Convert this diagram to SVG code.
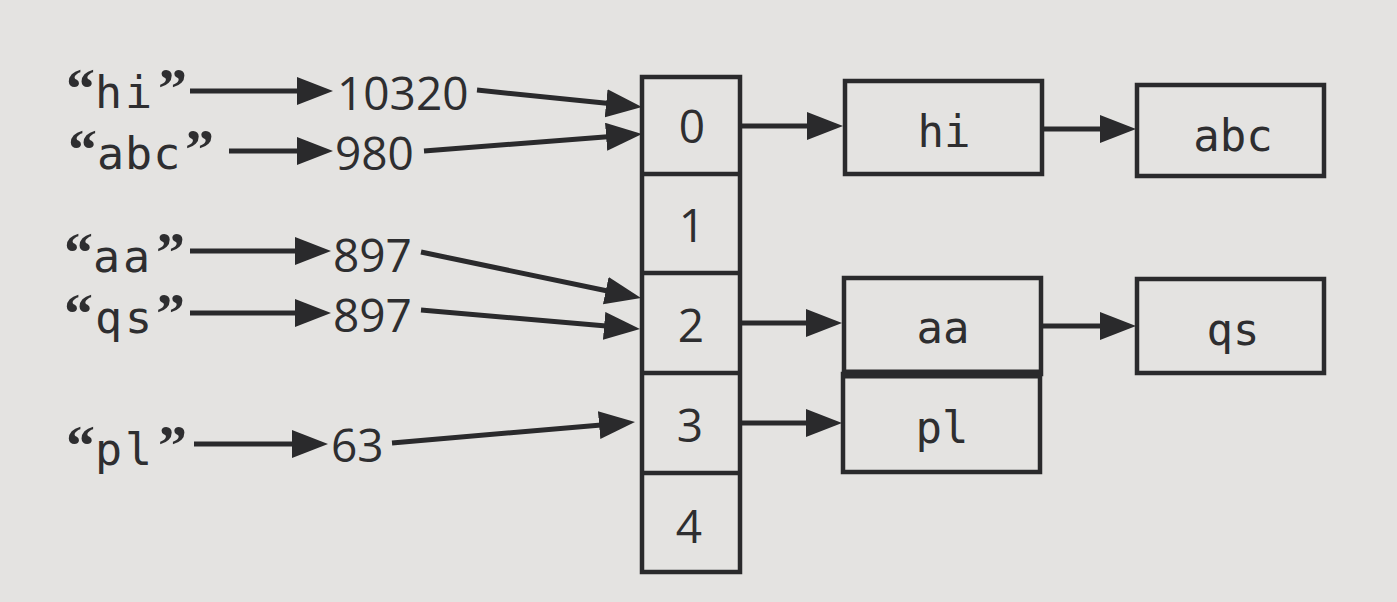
<svg xmlns="http://www.w3.org/2000/svg" width="1397" height="602" viewBox="0 0 1397 602">
  <style>
    .box { fill: none; stroke: #2a2a2c; stroke-width: 4.5; }
    .num { font-family: "Open Sans", "Liberation Sans", sans-serif; font-size: 46px; fill: #2e2e30; }
    .mono { font-family: "DejaVu Sans Mono", "Liberation Mono", monospace; font-size: 44px; fill: #2e2e30; }
    .str { font-family: "DejaVu Sans Mono", "Liberation Mono", monospace; font-size: 45px; fill: #2e2e30; }
    .str .l { letter-spacing: 3px; }
    .str .q { font-family: "Liberation Serif", "Times New Roman", serif; font-size: 58px; font-weight: bold; letter-spacing: 0; }
    .conn line { stroke: #2a2a2c; stroke-width: 5; marker-end: url(#ah); }
  </style>
  <defs>
    <marker id="ah" markerUnits="userSpaceOnUse" markerWidth="40" markerHeight="30" refX="8" refY="14" orient="auto">
      <path d="M0,0 L36,14 L0,28 Z" fill="#2a2a2c"/>
    </marker>
  </defs>
  <rect x="0" y="0" width="1397" height="602" fill="#e4e3e1"/>

  <g id="keys">
    <text id="key-hi" class="str" y="108"><tspan class="q" x="66">“</tspan><tspan class="l" x="95">hi</tspan><tspan class="q" x="158">”</tspan></text>
    <text id="key-abc" class="str" y="169"><tspan class="q" x="68">“</tspan><tspan class="l" x="97" style="letter-spacing:1px">abc</tspan><tspan class="q" x="185">”</tspan></text>
    <text id="key-aa" class="str" y="272"><tspan class="q" x="64">“</tspan><tspan class="l" x="93">aa</tspan><tspan class="q" x="156">”</tspan></text>
    <text id="key-qs" class="str" y="333"><tspan class="q" x="64">“</tspan><tspan class="l" x="95">qs</tspan><tspan class="q" x="156">”</tspan></text>
    <text id="key-pl" class="str" y="465"><tspan class="q" x="66">“</tspan><tspan class="l" x="95">pl</tspan><tspan class="q" x="158">”</tspan></text>
  </g>

  <g id="hashes">
    <text id="hash-10320" class="num" x="337" y="110">10320</text>
    <text id="hash-980" class="num" x="335" y="170">980</text>
    <text id="hash-897a" class="num" x="333" y="272">897</text>
    <text id="hash-897b" class="num" x="333" y="332">897</text>
    <text id="hash-63" class="num" x="331" y="462">63</text>
  </g>

  <g id="array">
    <rect class="box" x="642" y="77" width="98" height="495"/>
    <line class="box" x1="642" y1="174" x2="740" y2="174"/>
    <line class="box" x1="642" y1="273" x2="740" y2="273"/>
    <line class="box" x1="642" y1="373" x2="740" y2="373"/>
    <line class="box" x1="642" y1="473" x2="740" y2="473"/>
    <g id="slot-0"><text class="num" x="692" y="143" text-anchor="middle">0</text></g>
    <g id="slot-1"><text class="num" x="692" y="242" text-anchor="middle">1</text></g>
    <g id="slot-2"><text class="num" x="691" y="342" text-anchor="middle">2</text></g>
    <g id="slot-3"><text class="num" x="690" y="442" text-anchor="middle">3</text></g>
    <g id="slot-4"><text class="num" x="689" y="543" text-anchor="middle">4</text></g>
  </g>

  <g id="node-hi">
    <rect class="box" x="845" y="81" width="197" height="93"/>
    <text class="mono" x="944" y="147" text-anchor="middle">hi</text>
  </g>
  <g id="node-abc">
    <rect class="box" x="1137" y="85" width="187" height="91"/>
    <text class="mono" x="1233" y="151" text-anchor="middle">abc</text>
  </g>
  <g id="node-aa">
    <rect class="box" x="844" y="278" width="197" height="96"/>
    <text class="mono" x="943" y="343" text-anchor="middle">aa</text>
  </g>
  <g id="node-pl">
    <rect class="box" x="843" y="374" width="197" height="98"/>
    <line x1="843" y1="374" x2="1042" y2="374" stroke="#2a2a2c" stroke-width="9"/>
    <text class="mono" x="942" y="443" text-anchor="middle">pl</text>
  </g>
  <g id="node-qs">
    <rect class="box" x="1137" y="279" width="187" height="94"/>
    <text class="mono" x="1233" y="345" text-anchor="middle">qs</text>
  </g>

  <g id="connectors" class="conn">
    <line x1="190" y1="91" x2="305" y2="91"/>
    <line x1="229" y1="151" x2="305" y2="151"/>
    <line x1="190" y1="251" x2="303" y2="251"/>
    <line x1="190" y1="313" x2="303" y2="313"/>
    <line x1="194" y1="444" x2="300" y2="444"/>
    <line x1="477" y1="90" x2="614.1" y2="104.1"/>
    <line x1="424" y1="151" x2="614.1" y2="136.2"/>
    <line x1="421" y1="252" x2="613.6" y2="292.3"/>
    <line x1="421" y1="310" x2="612.1" y2="326.6"/>
    <line x1="392" y1="443" x2="607.1" y2="424.4"/>
    <line x1="741" y1="126" x2="815" y2="126"/>
    <line x1="1043" y1="129" x2="1108" y2="129"/>
    <line x1="741" y1="323" x2="814" y2="323"/>
    <line x1="1041" y1="326" x2="1108" y2="326"/>
    <line x1="741" y1="423" x2="814" y2="423"/>
  </g>
</svg>
